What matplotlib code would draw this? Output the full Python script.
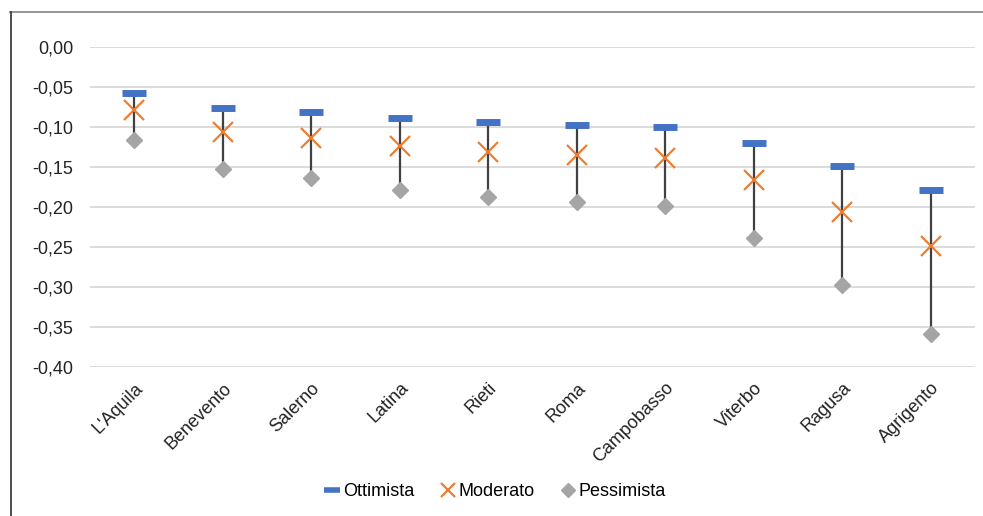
import matplotlib.pyplot as plt
from matplotlib.lines import Line2D

plt.rcParams['font.family'] = ['Liberation Sans', 'DejaVu Sans']

citta = ["L'Aquila", 'Benevento', 'Salerno', 'Latina', 'Rieti', 'Roma',
         'Campobasso', 'Viterbo', 'Ragusa', 'Agrigento']
ottimista = [-0.058, -0.076, -0.081, -0.089, -0.094, -0.097, -0.100, -0.120, -0.149, -0.179]
moderato = [-0.079, -0.106, -0.114, -0.124, -0.131, -0.135, -0.139, -0.166, -0.206, -0.249]
pessimista = [-0.116, -0.153, -0.164, -0.179, -0.188, -0.194, -0.199, -0.239, -0.298, -0.359]
yticks = [0.0, -0.05, -0.10, -0.15, -0.20, -0.25, -0.30, -0.35, -0.40]

fig = plt.figure(figsize=(9.83, 5.16), dpi=100)
ax = fig.add_axes([90 / 983, 1 - 367 / 516, 885 / 983, 320 / 516])

x = list(range(len(citta)))

# linee verticali tra ottimista e pessimista
ax.vlines(x, pessimista, ottimista, color='#404040', linewidth=1.6, zorder=2)

ax.plot(x, ottimista, linestyle='none', marker='_', markersize=17, markeredgewidth=5,
        color='#4472C4', label='Ottimista', zorder=3, clip_on=False)
ax.plot(x, moderato, linestyle='none', marker='x', markersize=15, markeredgewidth=1.6,
        color='#ED7D31', label='Moderato', zorder=4, clip_on=False)
ax.plot(x, pessimista, linestyle='none', marker='D', markersize=8,
        color='#A5A5A5', label='Pessimista', zorder=3, clip_on=False)

ax.set_xlim(-0.5, len(citta) - 0.5)
ax.set_ylim(-0.40, 0.0)
ax.set_yticks(yticks)
ax.set_yticklabels([f'{v:.2f}'.replace('.', ',') for v in yticks], fontsize=13, color='#222222')
ax.set_xticks(x)
ax.set_xticklabels(citta, rotation=45, ha='right', rotation_mode='anchor', fontsize=13,
                   color='#222222')
ax.tick_params(axis='y', length=0, pad=12)
ax.tick_params(axis='x', length=0, pad=9)
ax.grid(axis='y', color='#D9D9D9', linewidth=1.3)
ax.set_axisbelow(True)
for s in ax.spines.values():
    s.set_visible(False)

handles = [
    Line2D([], [], linestyle='none', marker='_', markersize=11, markeredgewidth=4, color='#4472C4'),
    Line2D([], [], linestyle='none', marker='x', markersize=10, markeredgewidth=1.6, color='#ED7D31'),
    Line2D([], [], linestyle='none', marker='D', markersize=7, color='#A5A5A5'),
]
fig.legend(handles, ['Ottimista', 'Moderato', 'Pessimista'], loc='center',
           bbox_to_anchor=(496 / 983, 1 - 492 / 516), ncol=3, frameon=False,
           fontsize=13, handlelength=0.7, handletextpad=0.25, columnspacing=1.5)

# bordo del grafico (solo sopra e a sinistra)
fig.add_artist(Line2D([10 / 983, 1], [1 - 12 / 516, 1 - 12 / 516], color='#8C8C8C', linewidth=1.3))
fig.add_artist(Line2D([10.5 / 983, 10.5 / 983], [0, 1 - 12 / 516], color='#404040', linewidth=1.3))

fig.savefig('out.png', dpi=100)
